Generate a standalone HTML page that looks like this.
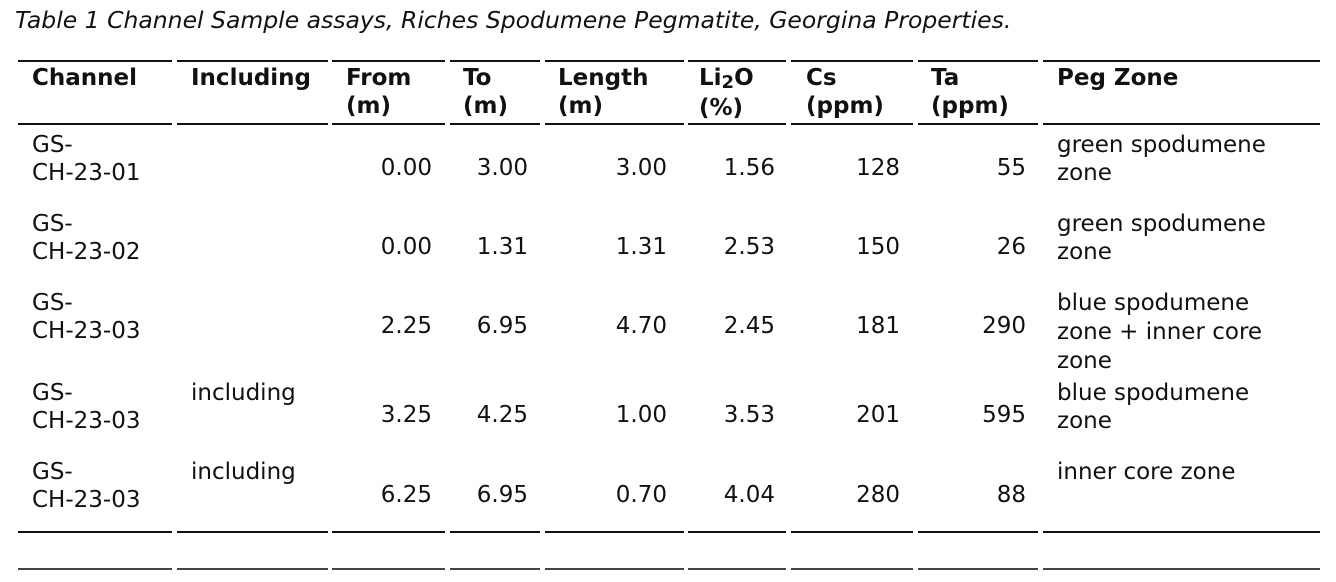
<!DOCTYPE html>
<html><head><meta charset="utf-8"><style>
body{margin:0;width:1336px;height:582px;background:#fff;position:relative;overflow:hidden;font-family:"DejaVu Sans","Liberation Sans",sans-serif;font-size:23px;color:#111;}
div{position:absolute;line-height:28px;white-space:nowrap;}
.b{font-weight:bold;}
.r{text-align:right;}
.l{height:2px;background:#111;line-height:0;}
.g{background:#444;}
</style></head><body>
<div style="left:15px;top:6px;font-style:italic;font-size:23.5px;">Table 1 Channel Sample assays, Riches Spodumene Pegmatite, Georgina Properties.</div>

<div class="l" style="left:18px;top:60px;width:154px"></div><div class="l" style="left:177px;top:60px;width:151px"></div><div class="l" style="left:332px;top:60px;width:113px"></div><div class="l" style="left:450px;top:60px;width:90px"></div><div class="l" style="left:545px;top:60px;width:139px"></div><div class="l" style="left:688px;top:60px;width:98px"></div><div class="l" style="left:791px;top:60px;width:122px"></div><div class="l" style="left:918px;top:60px;width:120px"></div><div class="l" style="left:1043px;top:60px;width:277px"></div>
<div class="l" style="left:18px;top:123px;width:154px"></div><div class="l" style="left:177px;top:123px;width:151px"></div><div class="l" style="left:332px;top:123px;width:113px"></div><div class="l" style="left:450px;top:123px;width:90px"></div><div class="l" style="left:545px;top:123px;width:139px"></div><div class="l" style="left:688px;top:123px;width:98px"></div><div class="l" style="left:791px;top:123px;width:122px"></div><div class="l" style="left:918px;top:123px;width:120px"></div><div class="l" style="left:1043px;top:123px;width:277px"></div>
<div class="l" style="left:18px;top:531px;width:154px"></div><div class="l" style="left:177px;top:531px;width:151px"></div><div class="l" style="left:332px;top:531px;width:113px"></div><div class="l" style="left:450px;top:531px;width:90px"></div><div class="l" style="left:545px;top:531px;width:139px"></div><div class="l" style="left:688px;top:531px;width:98px"></div><div class="l" style="left:791px;top:531px;width:122px"></div><div class="l" style="left:918px;top:531px;width:120px"></div><div class="l" style="left:1043px;top:531px;width:277px"></div>
<div class="l g" style="left:18px;top:568px;width:154px"></div><div class="l g" style="left:177px;top:568px;width:151px"></div><div class="l g" style="left:332px;top:568px;width:113px"></div><div class="l g" style="left:450px;top:568px;width:90px"></div><div class="l g" style="left:545px;top:568px;width:139px"></div><div class="l g" style="left:688px;top:568px;width:98px"></div><div class="l g" style="left:791px;top:568px;width:122px"></div><div class="l g" style="left:918px;top:568px;width:120px"></div><div class="l g" style="left:1043px;top:568px;width:277px"></div>

<div class="b" style="left:32px;top:64px">Channel</div>
<div class="b" style="left:191px;top:64px">Including</div>
<div class="b" style="left:346px;top:64px">From<br>(m)</div>
<div class="b" style="left:463px;top:64px">To<br>(m)</div>
<div class="b" style="left:558px;top:64px">Length<br>(m)</div>
<div class="b" style="left:699px;top:64px">Li<span style="font-size:18px;position:relative;top:3px">2</span>O<br>(%)</div>
<div class="b" style="left:806px;top:64px">Cs<br>(ppm)</div>
<div class="b" style="left:931px;top:64px">Ta<br>(ppm)</div>
<div class="b" style="left:1057px;top:64px">Peg Zone</div>

<div style="left:32px;top:131px">GS-<br>CH-23-01</div>
<div class="r" style="right:904px;top:154px">0.00</div>
<div class="r" style="right:808px;top:154px">3.00</div>
<div class="r" style="right:669px;top:154px">3.00</div>
<div class="r" style="right:561px;top:154px">1.56</div>
<div class="r" style="right:436px;top:154px">128</div>
<div class="r" style="right:310px;top:154px">55</div>
<div style="left:1057px;top:131px">green spodumene<br>zone</div>

<div style="left:32px;top:210px">GS-<br>CH-23-02</div>
<div class="r" style="right:904px;top:233px">0.00</div>
<div class="r" style="right:808px;top:233px">1.31</div>
<div class="r" style="right:669px;top:233px">1.31</div>
<div class="r" style="right:561px;top:233px">2.53</div>
<div class="r" style="right:436px;top:233px">150</div>
<div class="r" style="right:310px;top:233px">26</div>
<div style="left:1057px;top:210px">green spodumene<br>zone</div>

<div style="left:32px;top:289px">GS-<br>CH-23-03</div>
<div class="r" style="right:904px;top:312px">2.25</div>
<div class="r" style="right:808px;top:312px">6.95</div>
<div class="r" style="right:669px;top:312px">4.70</div>
<div class="r" style="right:561px;top:312px">2.45</div>
<div class="r" style="right:436px;top:312px">181</div>
<div class="r" style="right:310px;top:312px">290</div>
<div style="left:1057px;top:289px;line-height:29px">blue spodumene<br>zone + inner core<br>zone</div>

<div style="left:32px;top:379px">GS-<br>CH-23-03</div>
<div style="left:191px;top:379px">including</div>
<div class="r" style="right:904px;top:401px">3.25</div>
<div class="r" style="right:808px;top:401px">4.25</div>
<div class="r" style="right:669px;top:401px">1.00</div>
<div class="r" style="right:561px;top:401px">3.53</div>
<div class="r" style="right:436px;top:401px">201</div>
<div class="r" style="right:310px;top:401px">595</div>
<div style="left:1057px;top:379px">blue spodumene<br>zone</div>

<div style="left:32px;top:458px">GS-<br>CH-23-03</div>
<div style="left:191px;top:458px">including</div>
<div class="r" style="right:904px;top:481px">6.25</div>
<div class="r" style="right:808px;top:481px">6.95</div>
<div class="r" style="right:669px;top:481px">0.70</div>
<div class="r" style="right:561px;top:481px">4.04</div>
<div class="r" style="right:436px;top:481px">280</div>
<div class="r" style="right:310px;top:481px">88</div>
<div style="left:1057px;top:458px">inner core zone</div>
</body></html>
